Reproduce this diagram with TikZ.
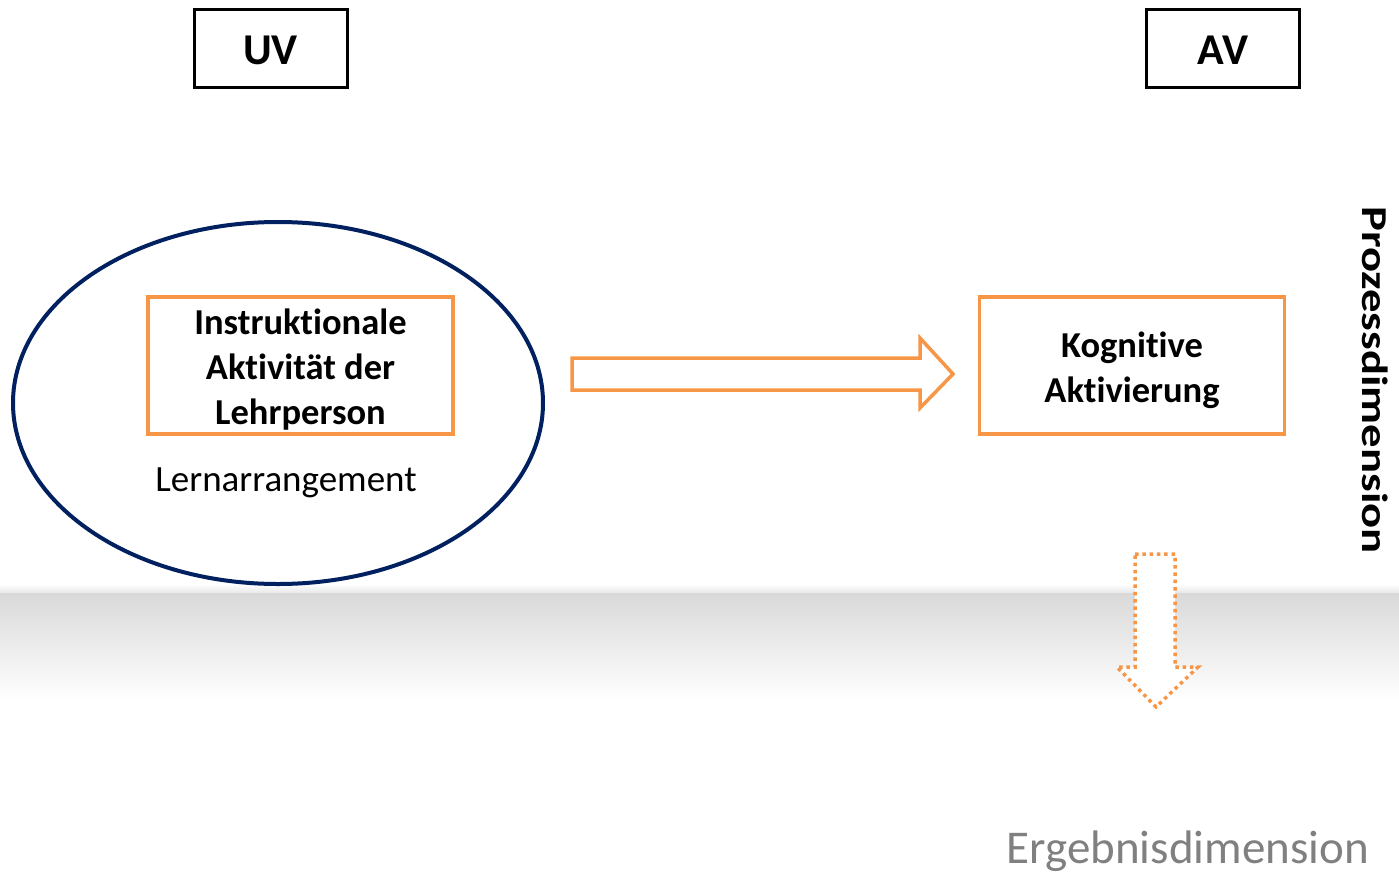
\documentclass[tikz,border=0pt]{standalone}
\usepackage{fontspec}
\setmainfont{Carlito}[RawFeature={-liga;-clig;-dlig}]
\usetikzlibrary{shapes.geometric}
\definecolor{orng}{HTML}{F79646}
\definecolor{navy}{HTML}{002060}
\definecolor{gtxt}{HTML}{808080}
\tikzset{
  labelbox/.style={draw=black, line width=3pt, minimum width=153pt, minimum height=77pt, inner sep=0pt},
  labeltext/.style={font=\fontsize{44}{52}\selectfont\bfseries, inner sep=0pt},
  obox/.style={draw=orng, line width=3.5pt, minimum width=305pt, minimum height=137pt, inner sep=0pt},
  btext/.style={align=center, font=\fontsize{36.5}{45}\selectfont\bfseries, inner sep=0pt},
  blockarrow/.style={draw=orng, fill=white, line width=3.5pt, line join=miter},
  dotarrow/.style={draw=orng, fill=white, line width=3.5pt, dash pattern=on 3.5pt off 3.8pt},
}
\begin{document}
\begin{tikzpicture}[x=1pt,y=-1pt]
\useasboundingbox (0,0) rectangle (1399,875);
% background band
\shade[top color=black!15, bottom color=white] (0,592) rectangle (1399,700);
\shade[top color=white, bottom color=black!8] (0,584) rectangle (1399,592);
% header boxes
\node[labelbox] (uv) at (270.5,48.5) {};
\node[labeltext] (uvt) at ([yshift=-2pt]uv.center) {UV};
\node[labelbox] (av) at (1223,48.5) {};
\node[labeltext] (avt) at ([yshift=-2pt]av.center) {AV};
% ellipse
\node[ellipse, draw=navy, line width=4pt, minimum width=530pt, minimum height=362pt, inner sep=0pt] (ell) at (278,403) {};
% boxes
\node[obox] (b1) at (300.5,365.5) {};
\node[btext] (t1) at ([yshift=-4pt]b1.center) {Instruktionale\\Aktivität der\\Lehrperson};
\node[font=\fontsize{37}{44}\selectfont, inner sep=0pt] (lern) at (286,483) {Lernarrangement};
\node[obox] (b2) at (1132,365.5) {};
\node[btext] (t2) at ([yshift=-5pt]b2.center) {Kognitive\\Aktivierung};
% block arrow
\coordinate (a0) at (572,374);
\coordinate (a1) at (953,374);
\draw[blockarrow] (572,358) -- (920,358) -- (920,338) -- (a1) -- (920,408) -- (920,390) -- (572,390) -- cycle;
% dotted down arrow
\draw[dotarrow] (1135,554) -- (1175,554) -- (1175,667) -- (1198,667) -- (1156,707) -- (1117,667) -- (1135,667) -- cycle;
% side labels
\node[rotate=-90, xscale=1.28, font=\fontsize{36.5}{44}\selectfont\bfseries, inner sep=0pt] (proz) at (1375,380) {Prozessdimension};
\node[anchor=east, text=gtxt, font=\fontsize{47}{56}\selectfont, inner sep=0pt] (erg) at (1369,851) {Ergebnisdimension};
\end{tikzpicture}
\end{document}
